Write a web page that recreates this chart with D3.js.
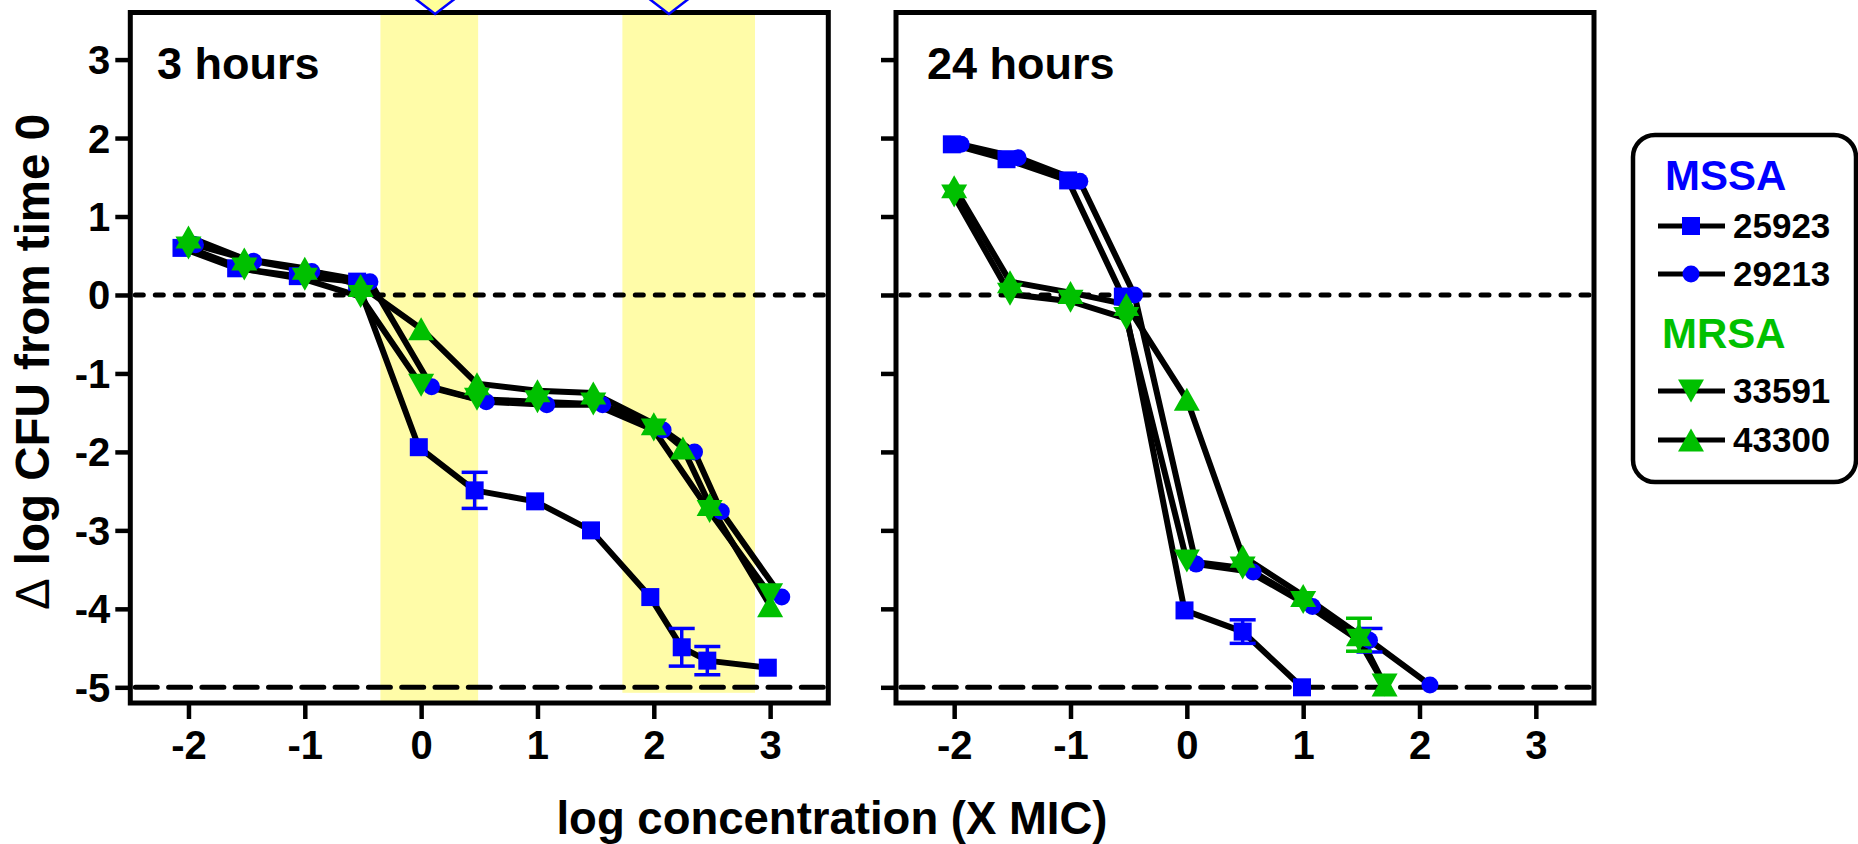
<!DOCTYPE html>
<html>
<head>
<meta charset="utf-8">
<script src="https://cdn.jsdelivr.net/npm/d3@7"></script>
<style>
    body { margin: 0; background: #fff; }
    text { font-family: "Liberation Sans", Arial, sans-serif; font-weight: bold; }
</style>
</head>
<body>
<svg id="chart" width="1858" height="844"></svg>
<script>
// values: [log concentration (X MIC), delta log CFU]
const strains = ["25923", "29213", "33591", "43300"];
const groups = ["MSSA", "MRSA"];
const panelTitles = ["3 hours", "24 hours"];
const xTicks = [-2, -1, 0, 1, 2, 3];
const yTicks = [-5, -4, -3, -2, -1, 0, 1, 2, 3];
const refLines = [0, -5];

// 3 hours
const h3_25923 = [[-2.06, 0.60], [-1.59, 0.34], [-1.06, 0.24], [-0.55, 0.17], [-0.02, -1.94], [0.46, -2.49],
    [0.98, -2.63], [1.46, -3.00], [1.97, -3.85], [2.24, -4.49], [2.46, -4.66], [2.98, -4.75]];
const h3_29213 = [[-1.94, 0.64], [-1.44, 0.43], [-0.94, 0.30], [-0.44, 0.17], [0.09, -1.17], [0.56, -1.36],
    [1.08, -1.40], [1.56, -1.40], [2.08, -1.72], [2.35, -2.00], [2.58, -2.76], [3.10, -3.85]];
const h3_33591 = [[-2, 0.60], [-1.52, 0.33], [-1, 0.20], [-0.52, -0.02], [0, -1.15], [0.48, -1.33],
    [1, -1.36], [1.48, -1.39], [2, -1.72], [2.48, -2.76], [3, -3.82]];
const h3_43300 = [[-2, 0.74], [-1.52, 0.46], [-1, 0.34], [-0.52, 0.12], [0, -0.43], [0.48, -1.13],
    [1, -1.22], [1.48, -1.25], [2, -1.64], [2.25, -1.95], [2.48, -2.67], [3, -3.96]];
// error bars [x, y, sd]
const h3_err_25923 = [[0.46, -2.49, 0.23], [2.24, -4.49, 0.24], [2.46, -4.66, 0.18]];
// shaded ranges [from, to, lower y]
const h3_bands = [[-0.35, 0.49, -5.2], [1.73, 2.87, -5.07]];
const h3_topMarks = [0.12, 2.13];

// 24 hours
const h24_25923 = [[-2.02, 1.92], [-1.55, 1.73], [-1.02, 1.46], [-0.55, -0.02], [-0.02, -4.02], [0.48, -4.29],
    [0.99, -5.0]];
const h24_29213 = [[-1.94, 1.92], [-1.45, 1.75], [-0.92, 1.45], [-0.45, 0.0], [0.08, -3.43], [0.57, -3.53],
    [1.08, -3.97], [1.57, -4.40], [2.09, -4.97]];
const h24_33591 = [[-2, 1.26], [-1.52, 0.01], [-1, -0.08], [-0.52, -0.30], [0, -3.39], [0.48, -3.48],
    [1, -3.92], [1.48, -4.40], [1.70, -4.97]];
const h24_43300 = [[-2, 1.38], [-1.52, 0.17], [-1, 0.03], [-0.52, -0.12], [0, -1.33], [0.48, -3.33],
    [1, -3.83], [1.48, -4.33], [1.70, -4.97]];
const h24_err_25923 = [[0.48, -4.29, 0.15]];
const h24_err_29213 = [[1.57, -4.40, 0.15]];
const h24_err_43300 = [[1.48, -4.33, 0.21]];

const BLUE = "#0000ff", GREEN = "#00c000", YELLOW = "#fffca8";

const svg = d3.select("#chart");
svg.append("rect").attr("width", 1858).attr("height", 844).attr("fill", "#fff");

// layout
const panelLeft = [130.3, 896];
const panelW = 698;
const plotTop = 12.5, plotBottom = 703;
const titleX = [157, 927];

function markerPath(shape) {
    if (shape === "square") return "M-9,-9H9V9H-9Z";
    if (shape === "circle") return d3.symbol(d3.symbolCircle, Math.PI * 8.5 * 8.5)();
    if (shape === "down") return "M-13,-11.5L13,-11.5L0,11.5Z";
    return "M0,-11.5L13,11.5L-13,11.5Z";
}

// plain hyphen for negative tick labels, like the original
const tickFmt = d => (d < 0 ? "-" : "") + Math.abs(d);

function drawPanel(idx, series, errs, bands, topMarks) {
    const x = d3.scaleLinear().domain([-2.5, 3.5]).range([panelLeft[idx], panelLeft[idx] + panelW]);
    const y = d3.scaleLinear().domain([-5.2, 3.6]).range([plotBottom, plotTop]);
    const g = svg.append("g");

    // yellow bands
    g.selectAll(".band").data(bands).enter().append("rect")
        .attr("x", d => x(d[0]))
        .attr("width", d => x(d[1]) - x(d[0]))
        .attr("y", y(3.6))
        .attr("height", d => y(d[2]) - y(3.6))
        .attr("fill", YELLOW);

    // reference lines at 0 and -5
    g.selectAll(".ref").data(refLines).enter().append("line")
        .attr("x1", x(-2.5) + 5).attr("x2", x(3.5) - 3)
        .attr("y1", d => y(d)).attr("y2", d => y(d))
        .attr("stroke", "#000").attr("stroke-width", 5)
        .attr("stroke-linecap", "round")
        .attr("stroke-dasharray", d => d === 0 ? "8,12" : "22,11.3");

    const line = d3.line().x(d => x(d[0])).y(d => y(d[1]));
    g.selectAll(".series").data(series).enter().append("path")
        .attr("d", d => line(d.values))
        .attr("fill", "none")
        .attr("stroke", "#000")
        .attr("stroke-width", 6)
        .attr("stroke-linejoin", "round");

    // error bars
    errs.forEach(e => {
        e.values.forEach(v => {
            const eg = g.append("g").attr("stroke", e.color).attr("stroke-width", 3.5);
            eg.append("line").attr("x1", x(v[0])).attr("x2", x(v[0]))
                .attr("y1", y(v[1] + v[2])).attr("y2", y(v[1] - v[2]));
            [v[1] + v[2], v[1] - v[2]].forEach(c => {
                eg.append("line").attr("x1", x(v[0]) - 13).attr("x2", x(v[0]) + 13)
                    .attr("y1", y(c)).attr("y2", y(c));
            });
        });
    });

    // markers
    series.forEach(s => {
        g.selectAll(null).data(s.values).enter().append("path")
            .attr("d", markerPath(s.shape))
            .attr("transform", d => `translate(${x(d[0])},${y(d[1])})`)
            .attr("fill", s.color);
    });

    // frame
    g.append("rect")
        .attr("x", x(-2.5)).attr("y", y(3.6))
        .attr("width", x(3.5) - x(-2.5)).attr("height", y(-5.2) - y(3.6))
        .attr("fill", "none").attr("stroke", "#000").attr("stroke-width", 5);

    // axes
    const yAxis = d3.axisLeft(y).tickValues(yTicks).tickSize(15).tickPadding(5)
        .tickFormat(idx === 1 ? "" : tickFmt);
    const ya = g.append("g").attr("transform", `translate(${x(-2.5)},0)`).call(yAxis);
    const xa = g.append("g").attr("transform", `translate(0,${y(-5.2)})`)
        .call(d3.axisBottom(x).tickValues(xTicks).tickSize(16).tickPadding(12).tickFormat(tickFmt));
    [ya, xa].forEach(a => {
        a.select(".domain").remove();
        a.selectAll(".tick line").attr("stroke", "#000").attr("stroke-width", 4.5);
        a.selectAll(".tick text").attr("fill", "#000").style("font-size", "40px");
    });
    ya.selectAll(".tick text").attr("dy", "0.35em");

    // markers sitting above the top edge
    g.selectAll(".top").data(topMarks).enter().append("path")
        .attr("d", "M0,-20L26,0L0,20L-26,0Z")
        .attr("transform", d => `translate(${x(d)},${plotTop + 1.5 - 20})`)
        .attr("fill", "#ffff99").attr("stroke", BLUE).attr("stroke-width", 2.5);

    g.append("text")
        .attr("x", titleX[idx]).attr("y", 79)
        .style("font-size", "45px")
        .text(panelTitles[idx]);
}

const shapes = ["square", "circle", "down", "up"];
const colors = [BLUE, BLUE, GREEN, GREEN];

const series3 = [h3_25923, h3_29213, h3_33591, h3_43300].map((v, i) =>
    ({name: strains[i], values: v, shape: shapes[i], color: colors[i]}));
const series24 = [h24_25923, h24_29213, h24_33591, h24_43300].map((v, i) =>
    ({name: strains[i], values: v, shape: shapes[i], color: colors[i]}));

drawPanel(0, series3, [{values: h3_err_25923, color: BLUE}], h3_bands, h3_topMarks);
drawPanel(1, series24, [
    {values: h24_err_25923, color: BLUE},
    {values: h24_err_29213, color: BLUE},
    {values: h24_err_43300, color: GREEN}
], [], []);

// axis titles
svg.append("text")
    .attr("transform", "translate(49,362) rotate(-90)")
    .attr("text-anchor", "middle")
    .style("font-size", "47.5px")
    .call(t => {
        t.append("tspan").style("font-weight", "normal").text("\u0394");
        t.append("tspan").text(" log CFU from time 0");
    });

svg.append("text")
    .attr("x", 832).attr("y", 834)
    .attr("text-anchor", "middle")
    .style("font-size", "45.5px")
    .text("log concentration (X MIC)");

// legend
const legend = svg.append("g");
legend.append("rect")
    .attr("x", 1633).attr("y", 135).attr("width", 223).attr("height", 347)
    .attr("rx", 22).attr("ry", 22)
    .attr("fill", "#fff").attr("stroke", "#000").attr("stroke-width", 4.5);

const legendHeads = [{text: groups[0], y: 190, x: 1665, color: BLUE}, {text: groups[1], y: 348, x: 1662, color: GREEN}];
legend.selectAll(".head").data(legendHeads).enter().append("text")
    .attr("x", d => d.x).attr("y", d => d.y)
    .attr("fill", d => d.color)
    .style("font-size", "42px")
    .text(d => d.text);

const legendRows = [226, 274, 391, 440];
strains.forEach((s, i) => {
    const row = legend.append("g").attr("transform", `translate(0,${legendRows[i]})`);
    row.append("line").attr("x1", 1658).attr("x2", 1725).attr("y1", 0).attr("y2", 0)
        .attr("stroke", "#000").attr("stroke-width", 5);
    row.append("path").attr("d", markerPath(shapes[i]))
        .attr("transform", "translate(1691,0)").attr("fill", colors[i]);
    row.append("text").attr("x", 1733).attr("y", 12)
        .style("font-size", "35px").text(s);
});
</script>
</body>
</html>
